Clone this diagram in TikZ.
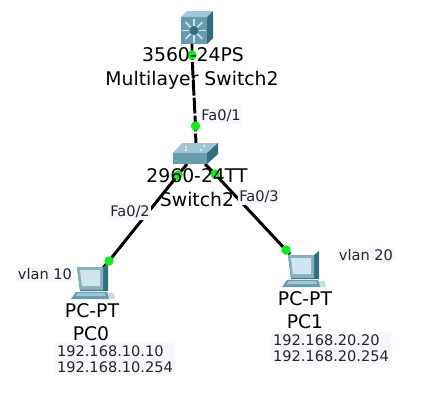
\documentclass[tikz,border=0pt]{standalone}
\usepackage{fontspec}
\usetikzlibrary{backgrounds}
\setmainfont{DejaVu Sans}
\definecolor{LinkGreen}{RGB}{20, 235, 30}
\definecolor{LabelBg}{RGB}{247, 248, 255}
\definecolor{IconFront}{RGB}{105, 155, 175}
\definecolor{IconTop}{RGB}{160, 198, 212}
\definecolor{IconSide}{RGB}{50, 110, 130}
\definecolor{IconScreen}{RGB}{210, 228, 238}
\tikzset{
  device/.style={font=\fontsize{10.7}{12}\selectfont, text=black, inner sep=0pt},
  port/.style={font=\fontsize{8.3}{10}\selectfont, text=black!85, fill=LabelBg, inner sep=1pt},
  dot/.style={circle, fill=LinkGreen, inner sep=0pt, minimum size=5.4pt},
  link/.style={line width=1.7pt, black},
  pcicon/.pic={
    \fill[IconSide] (0,0) -- (26,0) -- (31,-4) -- (31,24) -- (3,24) -- cycle;
    \fill[IconFront!80] (0,0) -- (26,0) -- (26,23) -- (3,23) -- cycle;
    \fill[IconScreen] (3,3) -- (23,3) -- (23,19) -- (5,19) -- cycle;
    \fill[IconFront] (-1,25) -- (30,25) -- (33,32) -- (-6,32) -- cycle;
    \fill[IconTop] (1,26) -- (28,26) -- (29,29) -- (-1,29) -- cycle;
    \fill[IconTop!60] (31,26) -- (37,26) -- (38,32) -- (32,32) -- cycle;
  }
}

\begin{document}
\begin{tikzpicture}[x=0.02cm, y=-0.02cm]
  \useasboundingbox (0,0) rectangle (443,400);

  % multilayer switch
  \fill[IconTop] (181,17) -- (187,11) -- (213,11) -- (207,17) -- cycle;
  \fill[IconSide] (207,17) -- (213,11) -- (213,38) -- (207,44) -- cycle;
  \node[fill=IconFront, minimum width=26*0.567pt, minimum height=27*0.567pt, inner sep=0pt] (mls) at (194,30.5) {};
  \foreach \a in {0,45,...,315}
    \draw[white!70!IconFront, line width=0.9pt] (mls.center) ++(\a:4) -- ++(\a:8);
  \fill[IconSide] (mls.center) circle (4.5);

  % access switch
  \fill[IconTop] (173,153) -- (182,143) -- (218,143) -- (207,153) -- cycle;
  \fill[IconSide] (207,153) -- (218,143) -- (218,154) -- (207,164) -- cycle;
  \node[fill=IconFront, minimum width=34*0.567pt, minimum height=11*0.567pt, inner sep=0pt] (sw) at (190,158.5) {};
  \foreach \p in {(186,147), (204,146), (186,150), (201,150)}
    \fill[white] \p circle (1);

  % the two PCs
  \path (77,267) pic {pcicon};
  \path (288,255) pic {pcicon};

  % ports
  \node[dot] (p1) at (192,55) {};
  \node[dot] (p2) at (195.5,126) {};
  \node[dot] (p3) at (178,175) {};
  \node[dot] (p4) at (215,174) {};
  \node[dot] (p5) at (109,261) {};
  \node[dot] (p6) at (286,250) {};
  \coordinate (m0) at (192,44);
  \coordinate (c0) at (103,268);
  \coordinate (c1) at (290,254);
  \coordinate (s1) at (196,150);
  \coordinate (s2) at (187,164);
  \coordinate (s3) at (205,164);

  % links
  \begin{scope}[on background layer]
    \draw[link, dash pattern=on 9pt off 1.2pt] (m0) -- (p1.center) -- (p2.center) -- (s1);
    \draw[link] (s2) -- (p3.center) -- (p5.center) -- (c0);
    \draw[link] (s3) -- (p4.center) -- (p6.center) -- (c1);
  \end{scope}

  % labels
  \node[device] (mlsa) at (193,55) {3560-24PS};
  \node[device] (mlsb) at (192,80) {Multilayer Switch2};
  \node[device] (swa) at (197,176) {2960-24TT};
  \node[device] (swb) at (197,199) {Switch2};
  \node[device] (pc0a) at (92,311) {PC-PT};
  \node[device] (pc0b) at (91,334) {PC0};
  \node[device] (pc1a) at (305,299) {PC-PT};
  \node[device] (pc1b) at (305,322) {PC1};

  \node[port] (f1) at (221,116) {Fa0/1};
  \node[port] (f2) at (130,212) {Fa0/2};
  \node[port] (f3) at (259,197) {Fa0/3};
  \node[port] (vl10) at (45,274) {vlan 10};
  \node[port] (vl20) at (366,255) {vlan 20};
  \node[port, align=left, font=\fontsize{8.3}{9.4}\selectfont] (ip0) at (115,359) {192.168.10.10\\192.168.10.254};
  \node[port, align=left, font=\fontsize{8.3}{9.4}\selectfont] (ip1) at (331,348) {192.168.20.20\\192.168.20.254};
\end{tikzpicture}
\end{document}
